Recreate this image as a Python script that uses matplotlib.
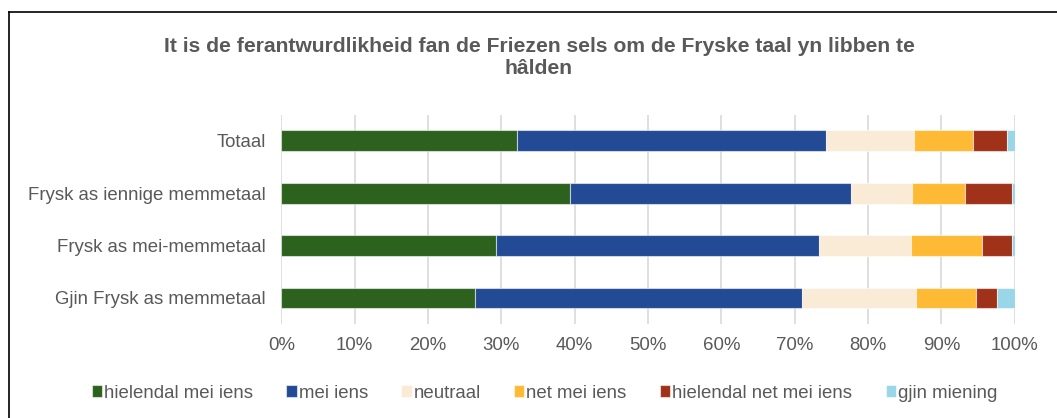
import matplotlib
matplotlib.use("Agg")
import matplotlib.pyplot as plt
from matplotlib.lines import Line2D
import numpy as np

plt.rcParams['font.family'] = ['Liberation Sans', 'DejaVu Sans']

title = "It is de ferantwurdlikheid fan de Friezen sels om de Fryske taal yn libben te\nhâlden"
categories = ["Totaal", "Frysk as iennige memmetaal", "Frysk as mei-memmetaal", "Gjin Frysk as memmetaal"]
series_names = ["hielendal mei iens", "mei iens", "neutraal", "net mei iens", "hielendal net mei iens", "gjin miening"]
hielendal_mei_iens = [32.1, 39.3, 29.2, 26.4]
mei_iens = [42.1, 38.4, 44.1, 44.6]
neutraal = [12.0, 8.3, 12.6, 15.6]
net_mei_iens = [8.1, 7.2, 9.6, 8.1]
hielendal_net_mei_iens = [4.6, 6.4, 4.1, 2.9]
gjin_miening = [1.1, 0.4, 0.4, 2.4]
x_ticks = [0, 10, 20, 30, 40, 50, 60, 70, 80, 90, 100]
x_tick_labels = ["0%", "10%", "20%", "30%", "40%", "50%", "60%", "70%", "80%", "90%", "100%"]

colors = ["#2D621E", "#234A94", "#FAEBD7", "#FFBA35", "#A03219", "#98D6E8"]
series = [hielendal_mei_iens, mei_iens, neutraal, net_mei_iens, hielendal_net_mei_iens, gjin_miening]

text_color = "#595959"
fig = plt.figure(figsize=(10.57, 4.18), dpi=100)
ax = fig.add_axes([0.2662, 0.2244, 0.9600 - 0.2662, 0.726 - 0.2244])

y = np.arange(len(categories))
left = np.zeros(len(categories))
handles = []
for name, vals, c in zip(series_names, series, colors):
    b = ax.barh(y, vals, left=left, height=0.4, color=c, edgecolor=(1, 1, 1, 0.55),
                linewidth=0.8, label=name, zorder=3)
    handles.append(b)
    left += np.array(vals)

ax.set_xlim(0, 100)
ax.set_ylim(len(categories) - 0.5, -0.5)
ax.set_yticks(y)
ax.set_yticklabels(categories, fontsize=13.4, color=text_color)
ax.set_xticks(x_ticks)
ax.set_xticklabels(x_tick_labels, fontsize=13.4, color=text_color)
ax.tick_params(axis='y', length=0, pad=11)
ax.tick_params(axis='x', length=0, pad=9)
ax.grid(axis='x', color="#D9D9D9", linewidth=1.2, zorder=0)
ax.set_axisbelow(True)
for s in ax.spines.values():
    s.set_visible(False)

fig.text(539 / 1057, 1 - 57.5 / 418, title, ha='center', va='center', fontsize=15.2, fontweight='bold',
         color=text_color, linespacing=1.2)

leg = fig.legend(handles=handles, labels=series_names, loc='center', bbox_to_anchor=(544.5 / 1057, 1 - 393 / 418),
                 ncol=6, frameon=False, fontsize=13.4, handlelength=0.55, handleheight=0.55,
                 handletextpad=0.1, columnspacing=1.8, labelcolor=text_color)

# chart border (left and top visible)
fig.add_artist(Line2D([9 / 1057, 9 / 1057], [0, 1 - 12 / 418], transform=fig.transFigure,
                      color='black', linewidth=1.2))
fig.add_artist(Line2D([9 / 1057, 1], [1 - 12 / 418, 1 - 12 / 418], transform=fig.transFigure,
                      color='black', linewidth=1.2))

fig.savefig("out.png", dpi=100)
